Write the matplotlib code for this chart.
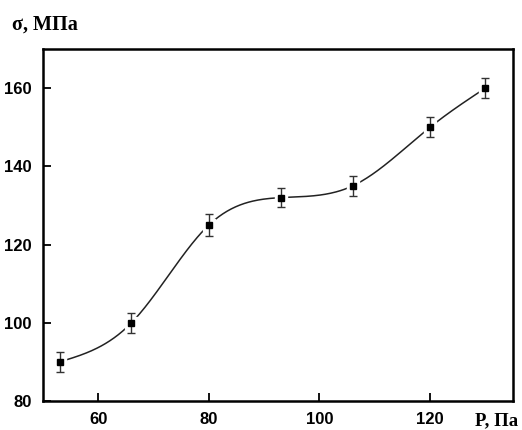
import numpy as np
import matplotlib
matplotlib.use("Agg")
import matplotlib.pyplot as plt

pressure = [53, 66, 80, 93, 106, 120, 130]
stress = [90, 100, 125, 132, 135, 150, 160]
stress_err = [2.5, 2.5, 2.8, 2.5, 2.5, 2.5, 2.5]
x_ticks = [60, 80, 100, 120]
y_ticks = [80, 100, 120, 140, 160]


def natural_spline(x, y, xs):
    x = np.asarray(x, float); y = np.asarray(y, float)
    n = len(x)
    h = np.diff(x)
    A = np.zeros((n, n)); b = np.zeros(n)
    A[0, 0] = 1; A[-1, -1] = 1
    for i in range(1, n - 1):
        A[i, i - 1] = h[i - 1]
        A[i, i] = 2 * (h[i - 1] + h[i])
        A[i, i + 1] = h[i]
        b[i] = 3 * ((y[i + 1] - y[i]) / h[i] - (y[i] - y[i - 1]) / h[i - 1])
    c = np.linalg.solve(A, b)
    out = np.empty_like(xs)
    for k, xv in enumerate(xs):
        i = min(np.searchsorted(x, xv, side='right') - 1, n - 2)
        i = max(i, 0)
        dx = xv - x[i]
        bi = (y[i + 1] - y[i]) / h[i] - h[i] * (2 * c[i] + c[i + 1]) / 3
        di = (c[i + 1] - c[i]) / (3 * h[i])
        out[k] = y[i] + bi * dx + c[i] * dx ** 2 + di * dx ** 3
    return out


fig = plt.figure(figsize=(5.22, 4.30), dpi=100)
ax = fig.add_axes([43 / 522, 1 - 401 / 430, 470 / 522, 352 / 430])

xs = np.linspace(pressure[0], pressure[-1], 400)
ys = natural_spline(pressure, stress, xs)
ax.plot(xs, ys, color='#222222', lw=1.1, zorder=2)
ax.plot(pressure, stress, 's', ms=9, color='white', mec='white', zorder=3)
ax.errorbar(pressure, stress, yerr=stress_err, fmt='s', ms=4.5, color='black',
            ecolor='#333333', elinewidth=1.0, capsize=3, capthick=1.0, zorder=4)

ax.set_xlim(50, 135)
ax.set_ylim(80, 170)
ax.set_xticks(x_ticks)
ax.set_yticks(y_ticks)
for s in ax.spines.values():
    s.set_linewidth(1.8)
ax.tick_params(direction='in', length=6, width=1.3, pad=8)
for lab in ax.get_xticklabels() + ax.get_yticklabels():
    lab.set_fontfamily('Liberation Sans')
    lab.set_fontweight('bold')
    lab.set_fontsize(12)

fig.text(12 / 522, 1 - 30 / 430, 'σ, МПа', fontfamily='Liberation Serif',
         fontweight='bold', fontsize=14.5, ha='left', va='baseline')
fig.text(518 / 522, 1 - 425 / 430, 'P, Па', fontfamily='Liberation Serif',
         fontweight='bold', fontsize=13.5, ha='right', va='baseline')

fig.savefig('out.png', dpi=100)
